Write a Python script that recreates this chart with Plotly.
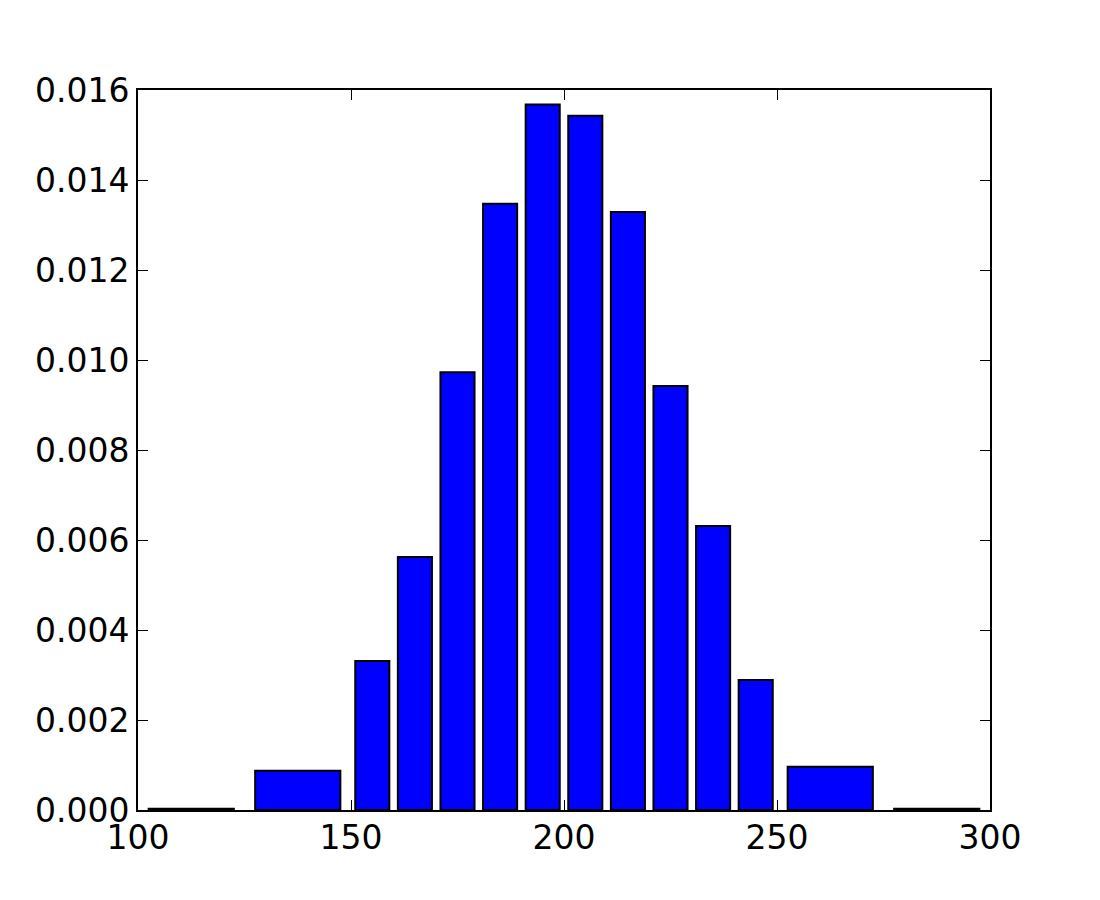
import plotly.graph_objects as go

# histogram bins (edges) and density values
bin_edges = [100, 125, 150, 160, 170, 180, 190, 200, 210, 220, 230, 240, 250, 275, 300]
density = [0.00003, 0.00087, 0.00331, 0.00562, 0.00973, 0.01347, 0.01568,
           0.01543, 0.01329, 0.00942, 0.00631, 0.00289, 0.00096, 0.00003]
rwidth = 0.8

centers = [(a + b) / 2 for a, b in zip(bin_edges[:-1], bin_edges[1:])]
widths = [(b - a) * rwidth for a, b in zip(bin_edges[:-1], bin_edges[1:])]

fig = go.Figure(go.Bar(
    x=centers,
    y=density,
    width=widths,
    marker=dict(color="#0000ff", line=dict(color="black", width=2)),
))

axis_style = dict(
    showline=True, linecolor="black", linewidth=2, mirror="allticks",
    ticks="inside", ticklen=10, tickwidth=1, tickcolor="black",
    showgrid=False, zeroline=False,
    tickfont=dict(family="DejaVu Sans", size=33, color="black"),
)

fig.update_xaxes(range=[100, 300], tickvals=[100, 150, 200, 250, 300],
                 ticklabelstandoff=-3, **axis_style)
fig.update_yaxes(range=[0, 0.016], dtick=0.002, tickformat=".3f", **axis_style)

fig.update_layout(
    width=1100, height=900,
    margin=dict(l=130, r=118, t=82, b=98),
    plot_bgcolor="white", paper_bgcolor="white",
    showlegend=False,
)

fig.write_html("out.html")
